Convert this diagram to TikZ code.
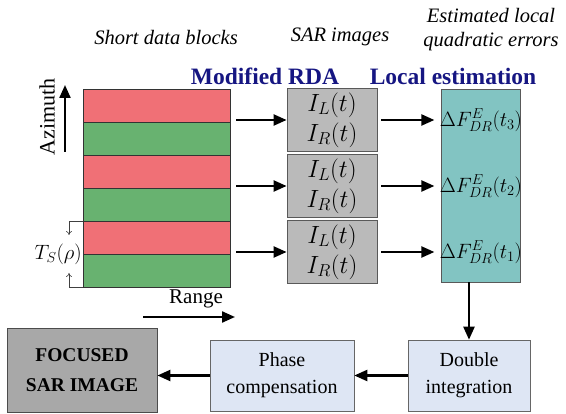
\documentclass[tikz,border=0pt]{standalone}
\usepackage{fontspec}
\setmainfont{Liberation Serif}
\usetikzlibrary{positioning,arrows.meta}

\definecolor{blockred}{RGB}{240,112,118}
\definecolor{blockgreen}{RGB}{104,178,112}
\definecolor{imggray}{RGB}{186,186,186}
\definecolor{estteal}{RGB}{130,196,194}
\definecolor{procblue}{RGB}{222,230,244}
\definecolor{outgray}{RGB}{168,168,168}
\definecolor{headblue}{RGB}{22,22,130}

\tikzset{
  stripe/.style={draw=black!80, line width=0.8pt, minimum width=147pt,
    minimum height=33pt, inner sep=0pt, outer sep=0pt},
  imgbox/.style={draw=black!65, line width=0.8pt, fill=imggray,
    minimum width=90pt, minimum height=63pt, align=center,
    font=\fontsize{23}{30}\selectfont},
  procbox/.style={draw=black!60, line width=0.6pt, fill=procblue,
    minimum height=71pt, align=center, font=\fontsize{20}{27}\selectfont},
  heading/.style={font=\fontsize{20.5}{24}\selectfont\itshape, align=center},
  stage/.style={font=\fontsize{23.5}{26}\selectfont\bfseries, text=headblue},
  flow/.style={-{Triangle[length=13pt,width=11pt]}, line width=2.2pt},
  thinflow/.style={-{To[length=4pt,width=6pt]}, line width=0.6pt, draw=black!75}
}

\begin{document}
\begin{tikzpicture}[x=1pt,y=-1pt]
\useasboundingbox (0,0) rectangle (566,414);

% column headings
\node[heading] (hblocks) at (166,37) {Short data blocks};
\node[heading] (himages) at (340,37) {SAR images};
\node[heading] (herrors) at (491,30) {Estimated local\\quadratic errors};
\node[stage] (hrda) at (265,76) {Modified RDA};
\node[stage] (hest) at (453,76) {Local estimation};

% short data blocks, red/green pairs
\foreach \i/\y in {3/89,2/155,1/221}{
  \node[stripe, fill=blockred, anchor=north west] (red\i) at (83,\y) {};
  \node[stripe, fill=blockgreen, anchor=north] (green\i) at (red\i.south) {};
}

% images and estimates
\node[draw=black!65, line width=0.8pt, fill=estteal, minimum width=79pt,
  minimum height=193pt] (est) at (480.5,185.5) {};
\foreach \i/\y in {3/120,2/186,1/252}{
  \node[imgbox] (img\i) at (332,\y) {$I_L(t)$\\$I_R(t)$};
  \node[font=\fontsize{20}{24}\selectfont] (dF\i) at (481,\y) {$\Delta F^E_{DR}(t_\i)$};
  \draw[flow] ([xshift=6pt]red\i.south east |- img\i.west) -- (img\i.west);
  \draw[flow] ([xshift=4pt]img\i.east) -- ([xshift=-2pt]dF\i.west);
}

% axes
\draw[flow] ([xshift=-18pt,yshift=-63pt]red3.north west) coordinate (azfoot)
  -- ++(0,-67) coordinate (azhead);
\node[rotate=90, font=\fontsize{22}{24}\selectfont] (azlab) at (47,117) {Azimuth};
\draw[flow] ([xshift=60pt,yshift=-30pt]green1.south west) coordinate (rgfoot)
  -- ++(92,0) coordinate (rghead);
\node[font=\fontsize{21}{24}\selectfont] (rglab) at (196,299) {Range};

% block length
\draw[thinflow] (red1.north west) -- ++(-14,0) -- ++(0,14);
\draw[thinflow] (green1.south west) -- ++(-14,0) -- ++(0,-14);
\node[left, inner sep=1pt, font=\fontsize{21}{24}\selectfont] (tslab)
  at (red1.south west) {$T_S(\rho)$};

% processing chain
\node[procbox, minimum width=122pt] (dint) at (469,375.5) {Double\\integration};
\node[procbox, minimum width=144pt] (phase) at (282,375.5) {Phase\\compensation};
\node[draw=black!70, line width=0.8pt, fill=outgray, minimum width=150pt,
  minimum height=84pt, align=center, font=\fontsize{19.5}{30}\selectfont\bfseries]
  (focus) at (82,370) {FOCUSED\\SAR IMAGE};
\draw[flow] (dint.north |- est.south) -- (dint.north);
\draw[flow] (dint.west) -- (phase.east);
\draw[flow] (phase.west) -- (phase.west -| focus.east);

\end{tikzpicture}
\end{document}
